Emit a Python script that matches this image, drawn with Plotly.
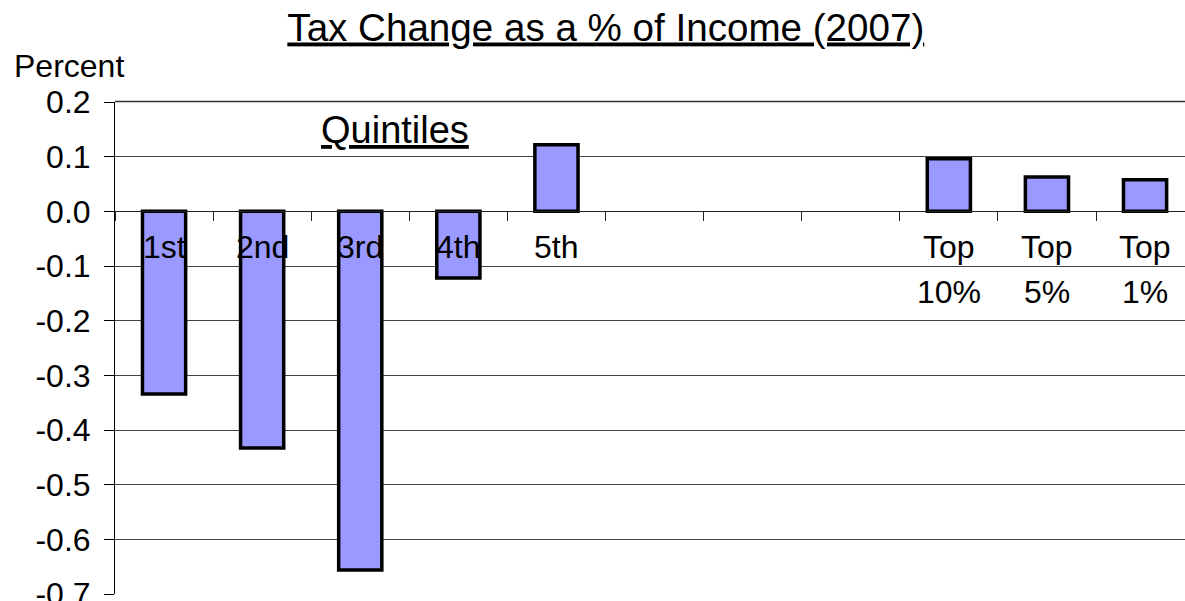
import plotly.graph_objects as go

categories = ["1st", "2nd", "3rd", "4th", "5th", "", "", "", "Top\n10%", "Top\n5%", "Top\n1%"]
values = [-0.334, -0.433, -0.656, -0.122, 0.122, None, None, None, 0.096, 0.063, 0.058]
ytick_vals = [0.2, 0.1, 0.0, -0.1, -0.2, -0.3, -0.4, -0.5, -0.6, -0.7]
ytick_text = [f"{v:.1f}" for v in ytick_vals]

W, H = 1185, 601
L, T, B = 115, 102, 7
PW = W - L
PH = H - T - B
FONT = "Liberation Sans, Arial, sans-serif"
Y_LO, Y_HI = min(ytick_vals), max(ytick_vals)

def px_x(px):
    return (px - L) / PW

def px_y(py):
    return (H - B - py) / PH

xs = list(range(len(categories)))
cat_w = 98.1
x_max = -0.5 + PW / cat_w

fig = go.Figure()
fig.add_trace(go.Bar(
    x=xs, y=values, width=0.44,
    marker=dict(color="#9999FF", line=dict(color="black", width=3.5)),
    hoverinfo="skip",
))

for x, lab in zip(xs, categories):
    if lab:
        for k, line in enumerate(lab.split("\n")):
            fig.add_annotation(x=x, y=0, xref="x", yref="y", text=line, showarrow=False,
                               yanchor="top", xanchor="center", yshift=-16 - 45 * k,
                               font=dict(family=FONT, size=32, color="black"))

fig.add_annotation(x=px_x(395.4), y=px_y(130), xref="paper", yref="paper",
                   text="<u>Quintiles</u>", showarrow=False, xanchor="center", yanchor="middle",
                   font=dict(family=FONT, size=38, color="black"))
fig.add_annotation(x=px_x(12), y=px_y(66), xref="paper", yref="paper",
                   text="Percent", showarrow=False, xanchor="left", yanchor="middle",
                   font=dict(family=FONT, size=32, color="black"))

# top gridline at the upper range edge (plotly omits the grid line lying on the edge)
top_y = 1 + 0.5 / PH
fig.add_shape(type="line", xref="paper", yref="paper", x0=0, x1=1, y0=top_y, y1=top_y,
              line=dict(color="#333", width=1.5), layer="above")

fig.update_layout(
    width=W, height=H,
    margin=dict(l=L, r=0, t=T, b=B, autoexpand=False),
    paper_bgcolor="white", plot_bgcolor="white",
    showlegend=False,
    title=dict(text="<u>Tax Change as a % of Income (2007)</u>", x=605.8 / W, xanchor="center",
               xref="container", yref="container", y=1 - 27 / H, yanchor="middle",
               font=dict(family=FONT, size=38.6, color="black")),
    xaxis=dict(range=[-0.5, x_max], showgrid=False, zeroline=False,
               anchor="free", position=(0 - Y_LO) / (Y_HI - Y_LO),
               showline=True, linecolor="#222", linewidth=1,
               tickvals=[i - 0.5 for i in range(len(categories) + 1)],
               ticks="outside", ticklen=9, tickcolor="#222", tickwidth=1,
               showticklabels=False, automargin=False),
    yaxis=dict(range=[Y_LO, Y_HI], tickvals=ytick_vals, ticktext=ytick_text,
               showgrid=True, gridcolor="#444", gridwidth=1, zeroline=False,
               showline=True, linecolor="black", linewidth=1,
               ticks="outside", ticklen=10, tickcolor="black",
               ticklabelstandoff=7, ticklabeloverflow="allow", automargin=False,
               tickfont=dict(family=FONT, size=32, color="black")),
)

fig.write_html("out.html")
